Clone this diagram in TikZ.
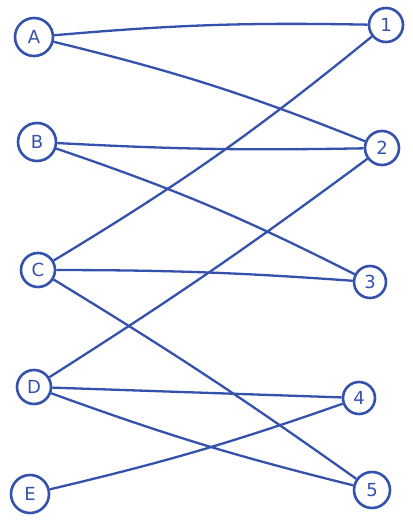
\documentclass[tikz,border=0pt]{standalone}
\usepackage{fontspec}
\setmainfont{DejaVu Sans}
\definecolor{ink}{RGB}{52,82,172}
\begin{document}
\begin{tikzpicture}[x=1pt,y=-1pt,
  vtx/.style={circle,draw=ink,line width=2.6pt,text=ink,inner sep=0pt,minimum size=34pt,font=\fontsize{18}{18}\selectfont},
  edge/.style={draw=ink,line width=2.3pt}]
\useasboundingbox (0,0) rectangle (412,521);
\node[vtx,minimum size=38pt] (A) at (34,37) {A};
\node[vtx,minimum size=38pt] (B) at (37,142) {B};
\node[vtx] (C) at (38,270) {C};
\node[vtx] (D) at (34,387) {D};
\node[vtx,minimum size=38pt] (E) at (30,494) {E};
\node[vtx] (n1) at (386,25) {1};
\node[vtx] (n2) at (382,148) {2};
\node[vtx,minimum size=32pt] (n3) at (370,282) {3};
\node[vtx,minimum size=32pt] (n4) at (359,398) {4};
\node[vtx,minimum size=36pt] (n5) at (372,490) {5};
\draw[edge] (A) to[bend left=3] (n1);
\draw[edge] (A) to[bend left=4] (n2);
\draw[edge] (B) to[bend right=2] (n2);
\draw[edge] (B) to[bend left=4] (n3);
\draw[edge] (C) to[bend right=4] (n1);
\draw[edge] (C) to[bend left=2] (n3);
\draw[edge] (C) to[bend left=2] (n5);
\draw[edge] (D) to[bend right=2] (n2);
\draw[edge] (D) to (n4);
\draw[edge] (D) to[bend right=3] (n5);
\draw[edge] (E) to[bend right=3] (n4);
\end{tikzpicture}
\end{document}
